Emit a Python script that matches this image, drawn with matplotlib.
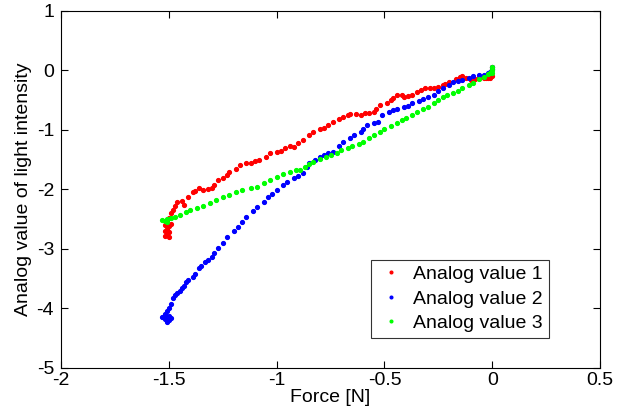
import matplotlib
matplotlib.use('Agg')
import matplotlib.pyplot as plt

plt.rcParams['font.family'] = ['Liberation Sans', 'DejaVu Sans']

# Analog value 1 (red)
force_1 = [0.0, 0.0, -0.005, 0.0, -0.01, -0.02, -0.03, -0.04, -0.06, -0.08, -0.10, -0.12,
           -0.14, -0.15, -0.17, -0.20, -0.22, -0.23, -0.25, -0.27, -0.29, -0.31, -0.33,
           -0.35, -0.37, -0.39, -0.41, -0.42, -0.44, -0.46, -0.47, -0.49, -0.52, -0.54,
           -0.55, -0.57, -0.59, -0.61, -0.63, -0.66, -0.67, -0.69, -0.71, -0.74, -0.76,
           -0.78, -0.80, -0.83, -0.85, -0.88, -0.90, -0.92, -0.94, -0.96, -0.98, -1.00,
           -1.03, -1.05, -1.08, -1.10, -1.12, -1.14, -1.17, -1.19, -1.22, -1.23, -1.25,
           -1.27, -1.29, -1.30, -1.32, -1.34, -1.36, -1.38, -1.39, -1.41, -1.43, -1.44,
           -1.46, -1.47, -1.48, -1.49, -1.50, -1.51, -1.52, -1.50, -1.51, -1.52, -1.50,
           -1.51, -1.52, -1.50, -1.51, -1.49]
value_1 = [0.06, 0.02, -0.05, -0.10, -0.12, -0.13, -0.12, -0.13, -0.12, -0.14, -0.16, -0.12,
           -0.09, -0.11, -0.15, -0.19, -0.22, -0.24, -0.28, -0.30, -0.29, -0.30, -0.33,
           -0.36, -0.41, -0.43, -0.45, -0.42, -0.41, -0.47, -0.50, -0.54, -0.58, -0.65,
           -0.70, -0.71, -0.72, -0.75, -0.74, -0.73, -0.75, -0.78, -0.82, -0.87, -0.92,
           -0.97, -0.99, -1.03, -1.08, -1.17, -1.22, -1.28, -1.27, -1.31, -1.36, -1.37,
           -1.39, -1.45, -1.50, -1.52, -1.56, -1.56, -1.59, -1.65, -1.71, -1.75, -1.81,
           -1.85, -1.92, -1.97, -1.99, -2.01, -1.98, -2.03, -2.04, -2.12, -2.26, -2.20,
           -2.21, -2.28, -2.34, -2.40, -2.48, -2.55, -2.60, -2.62, -2.66, -2.70, -2.72,
           -2.75, -2.78, -2.80, -2.68, -2.58]

# Analog value 2 (blue)
force_2 = [0.0, 0.0, -0.005, -0.01, -0.02, -0.04, -0.06, -0.09, -0.11, -0.14, -0.16, -0.18,
           -0.20, -0.23, -0.25, -0.27, -0.30, -0.32, -0.34, -0.37, -0.39, -0.41, -0.44,
           -0.46, -0.48, -0.51, -0.53, -0.55, -0.58, -0.60, -0.61, -0.64, -0.66, -0.69,
           -0.71, -0.74, -0.76, -0.78, -0.80, -0.82, -0.85, -0.86, -0.88, -0.90, -0.92,
           -0.95, -0.97, -1.00, -1.02, -1.04, -1.06, -1.09, -1.11, -1.14, -1.16, -1.18,
           -1.20, -1.23, -1.25, -1.27, -1.29, -1.30, -1.32, -1.33, -1.35, -1.36, -1.38,
           -1.39, -1.41, -1.42, -1.43, -1.44, -1.45, -1.46, -1.47, -1.48, -1.49, -1.50,
           -1.51, -1.52, -1.50, -1.51, -1.52, -1.50, -1.51, -1.53, -1.49]
value_2 = [0.06, 0.02, -0.02, -0.03, -0.05, -0.08, -0.07, -0.09, -0.12, -0.16, -0.17, -0.19,
           -0.24, -0.29, -0.35, -0.41, -0.44, -0.48, -0.52, -0.55, -0.59, -0.61, -0.64,
           -0.66, -0.70, -0.75, -0.87, -0.89, -0.92, -0.99, -1.03, -1.09, -1.14, -1.20,
           -1.27, -1.37, -1.39, -1.42, -1.45, -1.50, -1.55, -1.62, -1.72, -1.77, -1.81,
           -1.88, -1.92, -2.01, -2.07, -2.13, -2.21, -2.29, -2.37, -2.46, -2.55, -2.63,
           -2.70, -2.80, -2.90, -2.98, -3.07, -3.13, -3.18, -3.22, -3.28, -3.32, -3.42,
           -3.47, -3.52, -3.55, -3.62, -3.66, -3.70, -3.74, -3.78, -3.82, -3.92, -3.99,
           -4.05, -4.10, -4.12, -4.15, -4.18, -4.20, -4.22, -4.14, -4.16]

# Analog value 3 (green)
force_3 = [0.0, 0.0, 0.0, -0.005, -0.01, -0.02, -0.04, -0.06, -0.09, -0.11, -0.14, -0.16,
           -0.18, -0.21, -0.23, -0.25, -0.27, -0.30, -0.32, -0.35, -0.37, -0.40, -0.42,
           -0.44, -0.47, -0.50, -0.52, -0.55, -0.57, -0.60, -0.62, -0.65, -0.67, -0.70,
           -0.72, -0.75, -0.77, -0.80, -0.83, -0.85, -0.87, -0.89, -0.91, -0.94, -0.97,
           -1.00, -1.03, -1.06, -1.09, -1.12, -1.16, -1.19, -1.22, -1.25, -1.28, -1.31,
           -1.34, -1.37, -1.40, -1.42, -1.45, -1.47, -1.49, -1.51, -1.52, -1.53, -1.51]
value_3 = [0.05, 0.0, -0.05, -0.02, -0.04, -0.06, -0.11, -0.15, -0.21, -0.25, -0.29, -0.34,
           -0.38, -0.41, -0.44, -0.50, -0.55, -0.61, -0.64, -0.70, -0.75, -0.80, -0.84,
           -0.88, -0.93, -0.99, -1.03, -1.09, -1.13, -1.20, -1.23, -1.27, -1.30, -1.34,
           -1.38, -1.42, -1.46, -1.49, -1.54, -1.58, -1.63, -1.67, -1.68, -1.71, -1.74,
           -1.79, -1.84, -1.90, -1.96, -1.98, -2.01, -2.05, -2.09, -2.13, -2.18, -2.23,
           -2.28, -2.31, -2.34, -2.38, -2.43, -2.46, -2.48, -2.50, -2.53, -2.51, -2.55]

labels = ['Analog value 1', 'Analog value 2', 'Analog value 3']
colors = ['#ff0000', '#0000ff', '#00ff00']

fig = plt.figure(figsize=(6.29, 4.2), dpi=100)
ax = fig.add_axes([0.097, 0.124, 0.857, 0.850])

for xs, ys, c, lab in zip([force_1, force_2, force_3], [value_1, value_2, value_3], colors, labels):
    ax.plot(xs, ys, '.', color=c, markersize=5.5, label=lab)

ax.set_xlim(-2, 0.5)
ax.set_ylim(-5, 1)
ax.set_xticks([-2, -1.5, -1, -0.5, 0, 0.5])
ax.set_xticklabels(['-2', '-1.5', '-1', '-0.5', '0', '0.5'])
ax.set_yticks([-5, -4, -3, -2, -1, 0, 1])
ax.set_yticklabels(['-5', '-4', '-3', '-2', '-1', '0', '1'])
ax.tick_params(direction='in', top=True, right=True, length=5, width=0.8, labelsize=14)
ax.tick_params(axis='x', pad=3)
ax.tick_params(axis='y', pad=5)
for s in ax.spines.values():
    s.set_linewidth(0.8)

ax.set_xlabel('Force [N]', fontsize=14, labelpad=0)
ax.set_ylabel('Analog value of light intensity', fontsize=14, labelpad=3)

leg = ax.legend(loc='lower right', bbox_to_anchor=(0.905, 0.084), borderaxespad=0,
                fontsize=14, frameon=True, fancybox=False, markerscale=0.7,
                handlelength=1.5, handletextpad=0.4, labelspacing=0.35, borderpad=0.3)
leg.get_frame().set_edgecolor('black')
leg.get_frame().set_linewidth(0.8)

fig.savefig('out.png', dpi=100)
